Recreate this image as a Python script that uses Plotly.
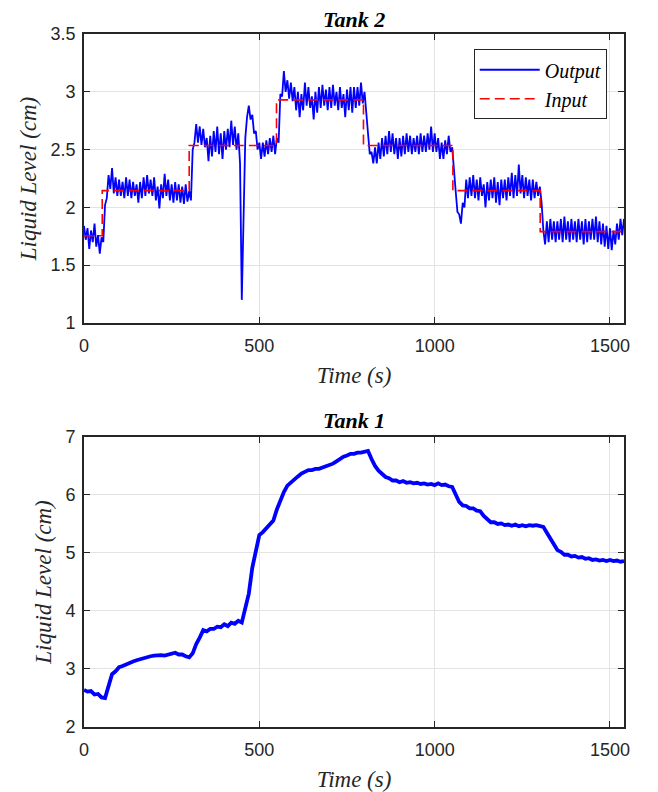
import plotly.graph_objects as go

# ---------------- Tank 2 (top) ----------------
t2_step = 5  # sampling interval of the recorded output (s)
tank2_output = [
    1.84, 1.72, 1.82, 1.64, 1.80, 1.70, 1.86, 1.66, 1.76, 1.60,
    1.74, 1.70, 2.02, 2.08, 2.28, 2.16, 2.34, 2.12, 2.26, 2.10,
    2.24, 2.10, 2.22, 2.08, 2.26, 2.10, 2.24, 2.08, 2.22, 2.10,
    2.20, 2.04, 2.22, 2.08, 2.26, 2.10, 2.28, 2.12, 2.24, 2.10,
    2.26, 2.06, 2.18, 1.99, 2.20, 2.08, 2.29, 2.10, 2.24, 2.06,
    2.20, 2.04, 2.22, 2.06, 2.20, 2.04, 2.18, 2.03, 2.20, 2.05,
    2.14, 2.06, 2.50, 2.56, 2.72, 2.56, 2.70, 2.54, 2.68, 2.52,
    2.60, 2.40, 2.62, 2.44, 2.66, 2.48, 2.70, 2.46, 2.64, 2.42,
    2.66, 2.50, 2.68, 2.52, 2.75, 2.54, 2.70, 2.50, 2.64, 2.38,
    1.20, 2.00, 2.60, 2.78, 2.88, 2.76, 2.80, 2.64, 2.66, 2.50,
    2.56, 2.42, 2.56, 2.44, 2.58, 2.46, 2.60, 2.48, 2.62, 2.46,
    2.60, 2.56, 2.98, 2.96, 3.18, 3.00, 3.10, 2.94, 3.08, 2.92,
    3.04, 2.84, 3.00, 2.78, 2.98, 2.84, 3.08, 2.88, 3.04, 2.86,
    2.96, 2.76, 3.00, 2.82, 3.04, 2.86, 3.06, 2.88, 3.02, 2.84,
    3.04, 2.86, 3.06, 2.88, 3.00, 2.84, 3.04, 2.86, 2.98, 2.78,
    3.02, 2.84, 3.04, 2.82, 3.04, 2.86, 3.04, 2.88, 3.08, 2.90,
    3.00, 2.82, 2.66, 2.46, 2.48, 2.38, 2.52, 2.38, 2.56, 2.42,
    2.60, 2.44, 2.62, 2.46, 2.66, 2.48, 2.64, 2.46, 2.60, 2.42,
    2.60, 2.44, 2.62, 2.46, 2.64, 2.48, 2.62, 2.46, 2.60, 2.48,
    2.62, 2.46, 2.64, 2.48, 2.62, 2.48, 2.64, 2.50, 2.70, 2.48,
    2.64, 2.48, 2.60, 2.42, 2.56, 2.42, 2.58, 2.46, 2.62, 2.48,
    2.52, 2.36, 2.14, 1.96, 1.94, 1.86, 2.04, 2.00, 2.24, 2.08,
    2.26, 2.10, 2.28, 2.08, 2.24, 2.06, 2.26, 2.10, 2.20, 2.00,
    2.22, 2.06, 2.24, 2.08, 2.26, 2.04, 2.22, 2.02, 2.24, 2.08,
    2.24, 2.06, 2.26, 2.10, 2.30, 2.08, 2.28, 2.10, 2.37, 2.12,
    2.28, 2.08, 2.26, 2.10, 2.24, 2.06, 2.24, 2.08, 2.22, 2.10,
    2.18, 2.04, 1.80, 1.68, 1.88, 1.70, 1.90, 1.72, 1.88, 1.70,
    1.88, 1.72, 1.90, 1.70, 1.92, 1.72, 1.88, 1.70, 1.90, 1.72,
    1.88, 1.70, 1.90, 1.72, 1.88, 1.68, 1.90, 1.70, 1.88, 1.72,
    1.90, 1.72, 1.92, 1.70, 1.88, 1.68, 1.86, 1.66, 1.84, 1.64,
    1.82, 1.63, 1.80, 1.68, 1.86, 1.72, 1.90, 1.76, 1.90,
]
tank2_time = [i * t2_step for i in range(len(tank2_output))]

input_time = [0, 52, 300, 549, 797, 1052, 1301, 1540]
input_level = [1.755, 2.145, 2.535, 2.93, 2.535, 2.145, 1.79, 1.79]

# ---------------- Tank 1 (bottom) ----------------
t1_step = 10
tank1_output = [
    2.64, 2.61, 2.62, 2.56, 2.57, 2.51, 2.50, 2.69, 2.91, 2.96,
    3.03, 3.05, 3.08, 3.10, 3.13, 3.15, 3.17, 3.19, 3.21, 3.22,
    3.23, 3.24, 3.24, 3.23, 3.25, 3.26, 3.28, 3.25, 3.25, 3.22,
    3.20, 3.27, 3.43, 3.54, 3.67, 3.65, 3.69, 3.69, 3.73, 3.72,
    3.77, 3.74, 3.80, 3.78, 3.83, 3.80, 4.02, 4.30, 4.75, 5.05,
    5.31, 5.36, 5.42, 5.50, 5.56, 5.75, 5.91, 6.05, 6.16, 6.22,
    6.27, 6.32, 6.37, 6.40, 6.43, 6.43, 6.45, 6.45, 6.47, 6.49,
    6.51, 6.54, 6.58, 6.62, 6.66, 6.68, 6.71, 6.71, 6.73, 6.73,
    6.74, 6.76, 6.62, 6.50, 6.42, 6.37, 6.31, 6.29, 6.25, 6.25,
    6.22, 6.24, 6.21, 6.22, 6.20, 6.21, 6.19, 6.20, 6.18, 6.19,
    6.17, 6.20, 6.17, 6.18, 6.15, 6.14, 6.00, 5.88, 5.82, 5.81,
    5.77, 5.77, 5.73, 5.72, 5.64, 5.58, 5.53, 5.53, 5.50, 5.51,
    5.48, 5.49, 5.47, 5.49, 5.46, 5.48, 5.46, 5.48, 5.47, 5.48,
    5.46, 5.45, 5.35, 5.24, 5.14, 5.05, 5.02, 4.97, 4.97, 4.94,
    4.95, 4.92, 4.93, 4.90, 4.91, 4.88, 4.89, 4.87, 4.88, 4.86,
    4.88, 4.86, 4.87, 4.85, 4.86,
]
tank1_time = [i * t1_step for i in range(len(tank1_output))]

x_ticks = [0, 500, 1000, 1500]
y2_ticks = [1, 1.5, 2, 2.5, 3, 3.5]
y1_ticks = [2, 3, 4, 5, 6, 7]

BLUE = "#0000ff"
RED = "#ff0000"
AX = "#262626"
GRID = "#e3e3e3"
SERIF = "Liberation Serif"
SANS = "Liberation Sans"

fig = go.Figure()
fig.add_trace(go.Scatter(x=tank2_time, y=tank2_output, mode="lines", name="Output",
                         line=dict(color=BLUE, width=1.8), xaxis="x", yaxis="y"))
fig.add_trace(go.Scatter(x=input_time, y=input_level, mode="lines", name="Input",
                         line=dict(color=RED, width=1.6, dash="10px,5px", shape="hv"),
                         xaxis="x", yaxis="y"))
fig.add_trace(go.Scatter(x=tank1_time, y=tank1_output, mode="lines", name="Tank 1",
                         line=dict(color=BLUE, width=3.8), showlegend=False,
                         xaxis="x2", yaxis="y2"))

axis_common = dict(
    showline=True, linecolor=AX, linewidth=1.6, mirror="ticks",
    ticks="inside", ticklen=6, tickwidth=1.2, tickcolor=AX,
    showgrid=True, gridcolor=GRID, gridwidth=1, zeroline=False,
    automargin=False,
    tickfont=dict(family=SANS, size=18, color=AX),
)
xaxis_extra = dict(ticklabelstandoff=6)
yaxis_extra = dict(ticklabelstandoff=3)
title_font = dict(family=SERIF, size=23, color=AX, style="italic")

fig.update_layout(
    width=650, height=784,
    margin=dict(l=76, r=34, t=26, b=65),
    plot_bgcolor="white", paper_bgcolor="white",
    xaxis=dict(domain=[0, 1], range=[0, 1540], tickvals=x_ticks, anchor="y",
               title=dict(text="Time (s)", font=title_font, standoff=12),
               **axis_common, **xaxis_extra),
    yaxis=dict(domain=[0.583, 1.0], range=[1, 3.5], tickvals=y2_ticks, anchor="x",
               title=dict(text="Liquid Level (cm)", font=title_font, standoff=8),
               **axis_common, **yaxis_extra),
    xaxis2=dict(domain=[0, 1], range=[0, 1540], tickvals=x_ticks, anchor="y2",
                title=dict(text="Time (s)", font=title_font, standoff=12),
                **axis_common, **xaxis_extra),
    yaxis2=dict(domain=[0, 0.4185], range=[2, 7], tickvals=y1_ticks, anchor="x2",
                title=dict(text="Liquid Level (cm)", font=title_font, standoff=8),
                **axis_common, **yaxis_extra),
    legend=dict(x=0.968, y=0.978, xanchor="right", yanchor="top",
                bgcolor="white", bordercolor=AX, borderwidth=1,
                font=dict(family=SERIF, size=20, color="black", style="italic"),
                itemwidth=60, tracegroupgap=0),
    showlegend=True,
    annotations=[
        dict(text="<b><i>Tank 2</i></b>", xref="paper", yref="paper", x=0.5, y=1.0215,
             xanchor="center", yanchor="middle", showarrow=False,
             font=dict(family=SERIF, size=22, color="black")),
        dict(text="<b><i>Tank 1</i></b>", xref="paper", yref="paper", x=0.5, y=0.442,
             xanchor="center", yanchor="middle", showarrow=False,
             font=dict(family=SERIF, size=22, color="black")),
    ],
)

fig.write_html("out.html")
